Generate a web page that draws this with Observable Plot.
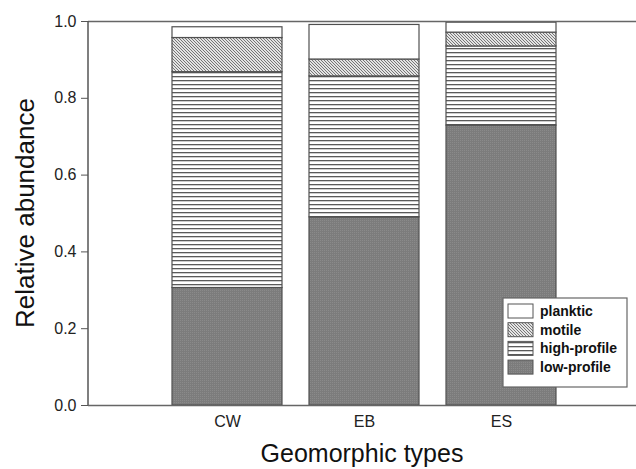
<!DOCTYPE html>
<html><head><meta charset="utf-8">
<script src="https://cdn.jsdelivr.net/npm/d3@7"></script>
<script src="https://cdn.jsdelivr.net/npm/@observablehq/plot@0.6"></script>
<style>body{margin:0;background:#fff}#chart{width:636px;height:469px}</style>
</head><body><div id="chart"></div>
<script>
// ---- data ----
const types = ["CW", "EB", "ES"];
const layers = ["low-profile", "high-profile", "motile", "planktic"];
const lowProfile  = [0.306, 0.490, 0.729];
const highProfile = [0.562, 0.367, 0.206];
const motile      = [0.089, 0.044, 0.036];
const planktic    = [0.028, 0.090, 0.026];
const yTicks = [0, 0.2, 0.4, 0.6, 0.8, 1.0];
const legendOrder = ["planktic", "motile", "high-profile", "low-profile"];

const series = {"low-profile": lowProfile, "high-profile": highProfile, "motile": motile, "planktic": planktic};
const rows = [];
types.forEach((t, i) => layers.forEach(l => rows.push({type: t, layer: l, value: series[l][i]})));

const patId = {"low-profile": "patLow", "high-profile": "patHigh", "motile": "patMotile", "planktic": "patPlank"};

const W = 636, H = 469, mL = 88, mT = 21, mB = 64, mR = 0;

const plot = Plot.plot({
  width: W, height: H,
  marginLeft: mL, marginTop: mT, marginBottom: mB, marginRight: mR,
  style: {fontFamily: "'Liberation Sans', Arial, sans-serif", fontSize: "16px", color: "#222", background: "#fff"},
  x: {domain: types, padding: 0.2, paddingOuter: 0.6, align: 0.51, label: null},
  y: {domain: [0, 1], label: null},
  color: {domain: layers, range: layers.map(l => `url(#${patId[l]})`)},
  marks: [
    Plot.barY(rows, Plot.stackY({x: "type", y: "value", fill: "layer", order: layers, stroke: "#505050", strokeWidth: 1.2})),
    Plot.ruleY([0], {stroke: "#666", strokeWidth: 1.5}),
    Plot.ruleY([1], {stroke: "#666", strokeWidth: 1.5}),
    Plot.axisY({ticks: yTicks, tickFormat: d3.format(".1f"), tickSize: 7, tickPadding: 5, stroke: "#555", label: null, fontSize: 16}),
    Plot.axisX({tickSize: 0, tickPadding: 10, label: null, fontSize: 16})
  ]
});

const svg = d3.select(plot);
const defs = svg.insert("defs", ":first-child");
// low-profile: dark grey stipple
const pl = defs.append("pattern").attr("id", "patLow").attr("patternUnits", "userSpaceOnUse").attr("width", 2).attr("height", 2);
pl.append("rect").attr("width", 2).attr("height", 2).attr("fill", "#7c7c7c");
pl.append("rect").attr("width", 1).attr("height", 1).attr("fill", "#8a8a8a");
// high-profile: horizontal lines
const ph = defs.append("pattern").attr("id", "patHigh").attr("patternUnits", "userSpaceOnUse").attr("width", 8).attr("height", 4);
ph.append("rect").attr("width", 8).attr("height", 4).attr("fill", "#fff");
ph.append("rect").attr("y", 0).attr("width", 8).attr("height", 1.3).attr("fill", "#5a5a5a");
// motile: diagonal hatch
const pm = defs.append("pattern").attr("id", "patMotile").attr("patternUnits", "userSpaceOnUse").attr("width", 3).attr("height", 3);
pm.append("rect").attr("width", 3).attr("height", 3).attr("fill", "#e4e4e4");
pm.append("path").attr("d", "M0,0L3,3M-1,2L1,4M2,-1L4,1").attr("stroke", "#6a6a6a").attr("stroke-width", 0.9);
// planktic: white
const pp = defs.append("pattern").attr("id", "patPlank").attr("patternUnits", "userSpaceOnUse").attr("width", 4).attr("height", 4);
pp.append("rect").attr("width", 4).attr("height", 4).attr("fill", "#fff");

// left axis line
svg.append("line").attr("x1", mL).attr("x2", mL).attr("y1", mT).attr("y2", H - mB)
  .attr("stroke", "#555").attr("stroke-width", 1.5);

// axis titles
svg.append("text").attr("transform", `translate(25,${(mT + H - mB) / 2}) rotate(-90)`)
  .attr("text-anchor", "middle").attr("dominant-baseline", "central")
  .attr("font-size", 26).attr("fill", "#111").text("Relative abundance");
svg.append("text").attr("x", (mL + W - mR) / 2).attr("y", 462)
  .attr("text-anchor", "middle")
  .attr("font-size", 25).attr("fill", "#111").text("Geomorphic types");

// legend
const lg = svg.append("g").attr("transform", "translate(503,298)").attr("text-anchor", "start");
lg.append("rect").attr("width", 124).attr("height", 89).attr("fill", "#fff").attr("stroke", "#666").attr("stroke-width", 1.2);
legendOrder.forEach((l, i) => {
  const y = 6 + i * 18.7;
  lg.append("rect").attr("x", 5).attr("y", y).attr("width", 25).attr("height", 14)
    .attr("fill", `url(#${patId[l]})`).attr("stroke", "#555").attr("stroke-width", 1);
  lg.append("text").attr("x", 37).attr("y", y + 7).attr("dominant-baseline", "central")
    .attr("text-anchor", "start")
    .attr("font-size", 14).attr("font-weight", "bold").attr("fill", "#111").text(l);
});

document.getElementById("chart").appendChild(plot);
</script>
</body></html>
